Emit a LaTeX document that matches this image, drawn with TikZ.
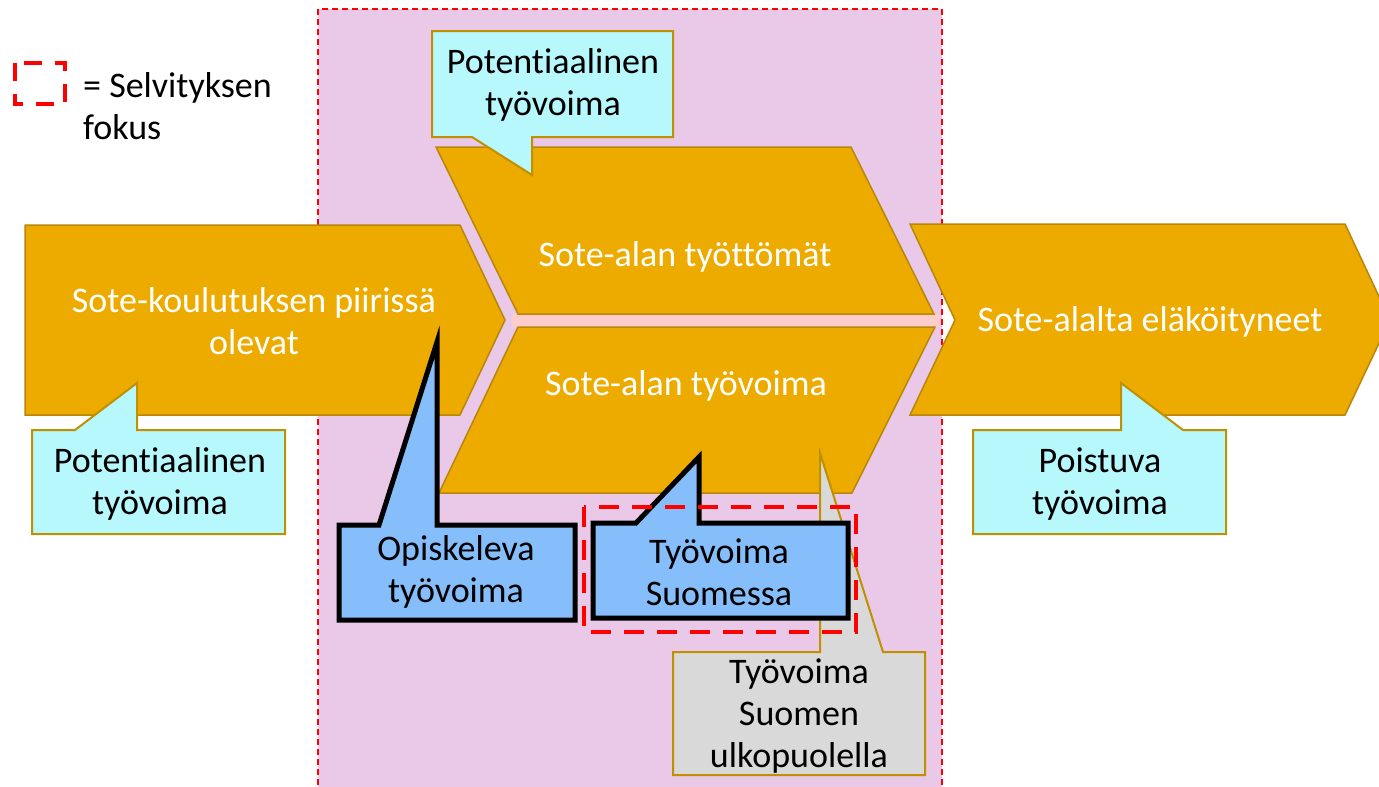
\documentclass[tikz,border=0pt]{standalone}
\usepackage{fontspec}
\setmainfont[Ligatures=NoCommon]{Carlito}
\definecolor{orng}{HTML}{EDAB00}
\definecolor{orbd}{HTML}{B8860B}
\definecolor{lav}{HTML}{EAC8E8}
\definecolor{cyanf}{HTML}{B6F8FC}
\definecolor{bluef}{HTML}{85BEFA}
\definecolor{grayf}{HTML}{D9D9D9}
\definecolor{stripc}{HTML}{FFCCCC}
\definecolor{callbd}{HTML}{BF9000}
\begin{document}
\begin{tikzpicture}[x=1pt,y=-1pt,
  every node/.style={font=\fontsize{36}{42}\selectfont, align=center, inner sep=0pt},
  orangeshape/.style={fill=orng, draw=orbd, line width=1.5pt, line join=miter},
  cyancall/.style={fill=cyanf, draw=callbd, line width=2pt, line join=miter},
  graycall/.style={fill=grayf, draw=callbd, line width=2pt, line join=miter},
  bluecall/.style={fill=bluef, draw=black, line width=5pt, line join=miter},
  focusbox/.style={draw=red, line width=4pt, dash pattern=on 20pt off 13pt},
  whitetxt/.style={text=white},
  blacktxt/.style={text=black}]
\useasboundingbox (0,0) rectangle (1379,787);
\clip (0,0) rectangle (1379,787);
% focus region
\draw[red, line width=1.5pt, dash pattern=on 6pt off 4pt, fill=lav] (318,9) rectangle (942,800);
\fill[stripc] (512,314) rectangle (940,327);
% legend
\draw[red, line width=4pt, dash pattern=on 18pt off 13pt] (15,63) rectangle (65,104);
\node[anchor=west, align=left] (legend) at (83,106) {= Selvityksen\\fokus};
% orange shapes
\draw[orangeshape] (25,225) -- (460,225) -- (505,320) -- (460,415) -- (25,415) -- cycle;
\draw[orangeshape] (436,147) -- (851,147) -- (934,314) -- (518,314) -- cycle;
\draw[orangeshape] (518,327) -- (935,327) -- (852,493) -- (439,493) -- cycle;
\draw[orangeshape] (910,224) -- (1345,224) -- (1390,320) -- (1345,415) -- (910,415) -- (955,320) -- cycle;
% gray callout
\draw[graycall] (673,652) -- (820,652) -- (820,453) -- (883,652) -- (925,652) -- (925,775) -- (673,775) -- cycle;
% cyan callouts
\draw[cyancall] (432,31) -- (673,31) -- (673,137) -- (532,137) -- (532,175) -- (472,137) -- (432,137) -- cycle;
\draw[cyancall] (32,430) -- (75,430) -- (137,383) -- (137,430) -- (285,430) -- (285,534) -- (32,534) -- cycle;
\draw[cyancall] (973,430) -- (1121,430) -- (1121,383) -- (1183,430) -- (1226,430) -- (1226,534) -- (973,534) -- cycle;
% blue callouts
\draw[bluecall] (339,525) -- (379,525) -- (437,342) -- (437,525) -- (575,525) -- (575,620) -- (339,620) -- cycle;
\draw[bluecall] (593,523) -- (636,523) -- (699,457) -- (699,523) -- (848,523) -- (848,618) -- (593,618) -- cycle;
% focus box
\draw[focusbox] (584,507) rectangle (856,632);
% texts
\node[whitetxt] (edu) at (254,321) {Sote-koulutuksen piirissä\\olevat};
\node[whitetxt] (unemp) at (685,257) {Sote-alan työttömät};
\node[whitetxt] (work) at (686,386) {Sote-alan työvoima};
\node[whitetxt] (ret) at (1150,322) {Sote-alalta eläköityneet};
\node[blacktxt] (pot1) at (553,85) {Potentiaalinen\\työvoima};
\node[blacktxt] (pot2) at (160,484) {Potentiaalinen\\työvoima};
\node[blacktxt] (leave) at (1100,484) {Poistuva\\työvoima};
\node[blacktxt] (stud) at (456,572) {Opiskeleva\\työvoima};
\node[blacktxt] (fin) at (719,572) {Työvoima\\Suomessa};
\node[blacktxt] (abroad) at (799,716) {Työvoima\\Suomen\\ulkopuolella};
\end{tikzpicture}
\end{document}
